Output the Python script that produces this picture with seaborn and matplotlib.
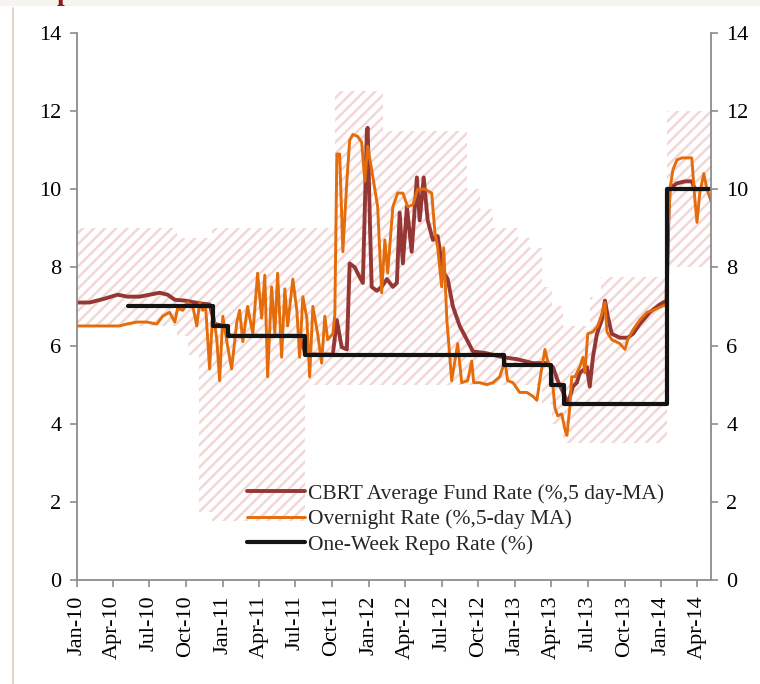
import matplotlib
matplotlib.use("Agg")
import matplotlib.pyplot as plt
import matplotlib.dates as mdates
from matplotlib.patches import Rectangle
from matplotlib.lines import Line2D
import seaborn as sns
import pandas as pd

# interest rate corridor (O/N borrowing = lower, O/N lending = upper), step changes
corridor_dates = ["2010-01-01", "2010-09-08", "2010-10-05", "2010-11-02", "2010-12-05",
                  "2011-07-25", "2011-10-08", "2012-02-05", "2012-09-02", "2012-10-04",
                  "2012-11-06", "2013-01-07", "2013-02-06", "2013-03-08", "2013-04-03",
                  "2013-05-01", "2013-07-06", "2013-08-04", "2014-01-16", "2014-05-05"]
corridor_lower = [6.5, 6.25, 5.75, 1.75, 1.5, 5.0, 5.0, 5.0, 5.0, 5.0,
                  5.0, 5.0, 5.0, 4.5, 4.0, 3.5, 3.5, 3.5, 8.0, 8.0]
corridor_upper = [9.0, 8.75, 8.75, 8.75, 9.0, 9.0, 12.5, 11.5, 10.0, 9.5,
                  9.0, 8.75, 8.5, 7.5, 7.0, 6.5, 7.25, 7.75, 12.0, 12.0]

# one-week repo rate
repo_dates = ["2010-05-10", "2010-12-08", "2011-01-13", "2011-07-26", "2012-12-03",
              "2013-03-30", "2013-05-02", "2014-01-16", "2014-05-05"]
repo_rate = [7.0, 6.5, 6.25, 5.75, 5.5, 5.0, 4.5, 10.0, 10.0]

# CBRT average funding rate (5 day MA)
fund_dates = ["2010-01-01", "2010-02-02", "2010-03-12", "2010-04-13", "2010-05-08",
              "2010-06-07", "2010-07-02", "2010-07-27", "2010-08-16", "2010-09-03",
              "2010-09-28", "2010-11-04", "2010-11-29", "2010-12-12", "2011-01-06",
              "2011-01-18", "2011-07-12", "2011-07-27", "2011-10-03", "2011-10-13",
              "2011-10-25", "2011-11-07", "2011-11-14", "2011-11-27", "2011-12-04",
              "2011-12-17", "2011-12-27", "2011-12-29", "2012-01-03", "2012-01-08",
              "2012-01-21", "2012-02-02", "2012-02-15", "2012-03-01", "2012-03-11",
              "2012-03-18", "2012-03-26", "2012-04-05", "2012-04-17", "2012-04-30",
              "2012-05-07", "2012-05-17", "2012-05-27", "2012-06-09", "2012-06-21",
              "2012-07-04", "2012-07-16", "2012-07-29", "2012-08-15", "2012-09-02",
              "2012-09-17", "2012-10-22", "2012-12-01", "2013-01-05", "2013-02-14",
              "2013-03-21", "2013-04-05", "2013-04-17", "2013-05-05", "2013-05-12",
              "2013-05-25", "2013-06-04", "2013-06-11", "2013-06-29", "2013-07-06",
              "2013-07-14", "2013-07-24", "2013-08-05", "2013-08-13", "2013-08-20",
              "2013-08-30", "2013-09-19", "2013-10-09", "2013-10-22", "2013-11-08",
              "2013-12-03", "2013-12-28", "2014-01-14", "2014-01-20", "2014-02-09",
              "2014-03-01", "2014-03-18", "2014-03-26", "2014-04-20"]
fund_rate = [7.1, 7.1, 7.2, 7.3, 7.25,
             7.25, 7.3, 7.35, 7.3, 7.17,
             7.15, 7.08, 7.05, 6.55, 6.5,
             6.25, 6.25, 5.77, 5.77, 6.65,
             5.96, 5.9, 8.1, 8.0, 7.85,
             7.6, 11.5, 11.57, 9.4, 7.5,
             7.4, 7.5, 7.7, 7.5, 7.6,
             9.4, 8.1, 9.55, 8.4, 10.3,
             9.2, 10.3, 9.2, 8.7, 8.8,
             7.9, 7.7, 7.0, 6.5, 6.15,
             5.85, 5.8, 5.7, 5.65, 5.55,
             5.55, 5.45, 5.1, 4.7, 4.5,
             4.95, 5.05, 5.3, 5.45, 4.95,
             5.7, 6.3, 6.65, 7.15, 6.75,
             6.3, 6.2, 6.2, 6.3, 6.55,
             6.85, 7.05, 7.15, 10.0, 10.15,
             10.2, 10.2, 10.0, 10.0]

# overnight rate (5 day MA)
overnight_dates = ["2010-01-01", "2010-04-18", "2010-05-06", "2010-05-31", "2010-06-25",
                   "2010-07-20", "2010-08-04", "2010-08-21", "2010-09-03", "2010-09-10",
                   "2010-09-23", "2010-10-05", "2010-10-18", "2010-10-28", "2010-11-04",
                   "2010-11-12", "2010-11-19", "2010-11-29", "2010-12-07", "2010-12-17",
                   "2010-12-24", "2011-01-01", "2011-01-11", "2011-01-23", "2011-02-05",
                   "2011-02-12", "2011-02-20", "2011-03-04", "2011-03-17", "2011-03-29",
                   "2011-04-08", "2011-04-16", "2011-04-23", "2011-05-03", "2011-05-11",
                   "2011-05-18", "2011-05-28", "2011-06-05", "2011-06-12", "2011-06-25",
                   "2011-07-05", "2011-07-12", "2011-07-20", "2011-07-30", "2011-08-06",
                   "2011-08-14", "2011-08-26", "2011-09-05", "2011-09-13", "2011-09-20",
                   "2011-10-03", "2011-10-08", "2011-10-13", "2011-10-20", "2011-10-28",
                   "2011-11-07", "2011-11-14", "2011-11-22", "2011-12-04", "2011-12-14",
                   "2011-12-22", "2011-12-29", "2012-01-08", "2012-01-16", "2012-01-23",
                   "2012-02-02", "2012-02-10", "2012-02-17", "2012-03-01", "2012-03-13",
                   "2012-03-26", "2012-04-07", "2012-04-20", "2012-05-02", "2012-05-20",
                   "2012-06-06", "2012-06-14", "2012-06-21", "2012-07-01", "2012-07-06",
                   "2012-07-14", "2012-07-26", "2012-08-10", "2012-08-20", "2012-09-04",
                   "2012-09-14", "2012-09-19", "2012-10-04", "2012-10-22", "2012-11-06",
                   "2012-11-23", "2012-12-06", "2012-12-13", "2012-12-26", "2013-01-12",
                   "2013-01-30", "2013-02-14", "2013-02-24", "2013-03-03", "2013-03-16",
                   "2013-03-23", "2013-04-02", "2013-04-10", "2013-04-17", "2013-04-27",
                   "2013-05-05", "2013-05-10", "2013-05-17", "2013-05-22", "2013-05-30",
                   "2013-06-11", "2013-06-19", "2013-06-24", "2013-07-01", "2013-07-14",
                   "2013-07-26", "2013-08-05", "2013-08-13", "2013-08-18", "2013-08-30",
                   "2013-09-19", "2013-10-02", "2013-10-09", "2013-10-22", "2013-11-08",
                   "2013-11-26", "2013-12-11", "2014-01-02", "2014-01-14", "2014-01-18",
                   "2014-01-24", "2014-01-30", "2014-02-09", "2014-02-21", "2014-03-18",
                   "2014-03-26", "2014-03-31", "2014-04-07", "2014-04-17", "2014-04-25",
                   "2014-05-05"]
overnight_rate = [6.5, 6.5, 6.55, 6.6, 6.6,
                  6.55, 6.75, 6.85, 6.6, 6.95,
                  6.9, 7.1, 7.0, 6.5, 7.1,
                  6.9, 7.0, 5.4, 6.9, 6.15,
                  5.1, 6.75, 6.1, 5.4, 6.6,
                  6.9, 6.1, 7.0, 6.3, 7.85,
                  6.7, 7.8, 5.2, 7.5, 6.3,
                  7.85, 5.7, 7.45, 6.5, 7.7,
                  6.9, 5.7, 7.25, 6.7, 5.2,
                  7.0, 6.3, 5.55, 6.75, 6.15,
                  6.3, 6.8, 10.9, 10.9, 8.4,
                  10.2, 11.25, 11.4, 11.35, 11.2,
                  10.2, 11.1, 10.5, 10.0, 9.55,
                  7.35, 8.7, 7.85, 9.55, 9.9,
                  9.9, 9.55, 9.6, 10.0, 10.0,
                  9.9, 8.9, 8.5, 7.5, 8.5,
                  6.65, 5.1, 6.05, 5.05, 5.1,
                  5.6, 5.05, 5.05, 5.0, 5.05,
                  5.2, 5.6, 5.1, 5.05, 4.8,
                  4.8, 4.7, 4.6, 5.1, 5.9,
                  5.6, 5.3, 4.4, 4.2, 4.25,
                  3.85, 3.7, 4.4, 5.2, 5.2,
                  5.45, 5.7, 5.3, 6.3, 6.35,
                  6.5, 6.8, 7.1, 6.35, 6.15,
                  6.05, 5.9, 6.15, 6.4, 6.65,
                  6.85, 6.9, 7.0, 7.05, 9.0,
                  10.1, 10.5, 10.75, 10.8, 10.8,
                  9.7, 9.15, 9.9, 10.4, 10.0,
                  9.7]

sns.set_style("white")
plt.rcParams["font.family"] = ["Liberation Serif", "DejaVu Serif"]
plt.rcParams["hatch.linewidth"] = 1.8

fig, ax = plt.subplots(figsize=(7.6, 6.84), dpi=100)
fig.subplots_adjust(left=0.101, right=0.9355, top=0.952, bottom=0.152)

# bits of the surrounding page
fig.patches.append(Rectangle((0, 1 - 6 / 684), 1, 6 / 684, transform=fig.transFigure,
                             facecolor="#f6f4ee", edgecolor="none", zorder=0))
fig.add_artist(Line2D([13 / 760, 13 / 760], [0, 1 - 8 / 684], color="#d9cdb9", lw=1.2))
fig.text(57 / 760, 1.0, "p", color="#8b1a1a", fontsize=20, fontweight="bold", va="baseline")

corridor = pd.DataFrame({"date": pd.to_datetime(corridor_dates),
                         "lower": corridor_lower, "upper": corridor_upper})
ax.fill_between(corridor["date"], corridor["lower"], corridor["upper"], step="post",
                facecolor="none", edgecolor="#f3d6d6", linewidth=0, hatch="///", zorder=1)

sns.lineplot(x=pd.to_datetime(fund_dates), y=fund_rate, color="#953735", lw=2.8, ax=ax,
             label="CBRT Average Fund Rate (%,5 day-MA)")
sns.lineplot(x=pd.to_datetime(overnight_dates), y=overnight_rate, color="#e46c0a", lw=2.1, ax=ax,
             label="Overnight Rate (%,5-day MA)")
sns.lineplot(x=pd.to_datetime(repo_dates), y=repo_rate, color="#141414", lw=3.0, ax=ax,
             drawstyle="steps-post", label="One-Week Repo Rate (%)")

ax.set_xlim(pd.Timestamp("2010-01-01"), pd.Timestamp("2014-05-05"))
ax.set_ylim(0, 14)
ax.set_yticks(range(0, 15, 2))
ax.xaxis.set_major_locator(mdates.MonthLocator(bymonth=[1, 4, 7, 10]))
ax.xaxis.set_major_formatter(mdates.DateFormatter("%b-%y"))
plt.setp(ax.get_xticklabels(), rotation=90)
ax.set_xlabel("")
ax.set_ylabel("")

grey = "#8c8c8c"
for side in ["left", "bottom"]:
    ax.spines[side].set_color(grey)
    ax.spines[side].set_linewidth(1.3)
ax.spines["top"].set_visible(False)
ax.spines["right"].set_visible(False)
ax.tick_params(axis="both", bottom=True, left=True, direction="out", length=5, width=1.2,
               color=grey, labelsize=16, labelcolor="black", pad=6)

ax2 = ax.twinx()
ax2.set_ylim(0, 14)
ax2.set_yticks(range(0, 15, 2))
for side in ["left", "bottom", "top"]:
    ax2.spines[side].set_visible(False)
ax2.spines["right"].set_color(grey)
ax2.spines["right"].set_linewidth(1.3)
ax2.tick_params(axis="y", right=True, direction="out", length=5, width=1.2,
                color=grey, labelsize=16, labelcolor="black", pad=6)

handles, labels = ax.get_legend_handles_labels()
ax.legend(handles, labels, loc="lower left", bbox_to_anchor=(0.268, 0.046), frameon=False,
          fontsize=15.5, handlelength=2.7, handletextpad=0.15, labelspacing=0.25,
          borderpad=0, borderaxespad=0)

fig.savefig("out.png", dpi=100)
